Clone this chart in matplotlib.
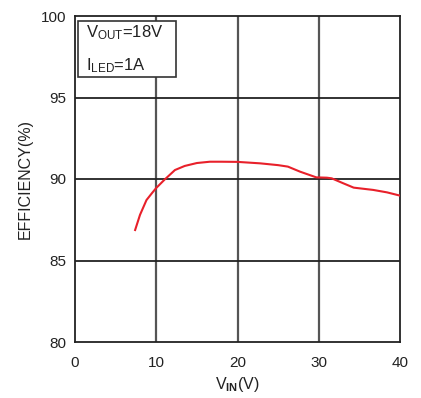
import matplotlib
matplotlib.use("Agg")
import matplotlib.pyplot as plt
from matplotlib.patches import Rectangle

plt.rcParams['font.family'] = ['Liberation Sans', 'DejaVu Sans']
plt.rcParams['mathtext.fontset'] = 'custom'
plt.rcParams['mathtext.rm'] = 'Liberation Sans'
plt.rcParams['mathtext.it'] = 'Liberation Sans'
plt.rcParams['mathtext.bf'] = 'Liberation Sans:bold'
plt.rcParams['mathtext.default'] = 'regular'

vin = [7.4, 8.0, 8.8, 9.5, 10.0, 11.0, 12.3, 13.5, 15.0, 16.6, 18.0, 20.0,
       22.8, 25.0, 26.2, 27.7, 29.7, 31.0, 31.6, 33.0, 34.3, 36.7, 38.4, 40.0]
eff = [86.87, 87.8, 88.71, 89.15, 89.45, 89.95, 90.55, 90.8, 90.98, 91.06, 91.06, 91.05,
       90.96, 90.85, 90.76, 90.45, 90.1, 90.08, 90.04, 89.74, 89.47, 89.33, 89.18, 88.98]
xticks = [0, 10, 20, 30, 40]
yticks = [80, 85, 90, 95, 100]

fig = plt.figure(figsize=(4.21, 3.98), dpi=100)
ax = fig.add_axes([75/421, 1-342/398, 325/421, 326/398])
ax.set_xlim(0, 40)
ax.set_ylim(80, 100)
ax.set_xticks(xticks)
ax.set_yticks(yticks)
ax.tick_params(length=0, labelsize=11, colors='#222222')
ax.tick_params(axis='x', pad=10)
ax.tick_params(axis='y', pad=6)
for x in xticks[1:-1]:
    ax.axvline(x, color='#555555', lw=1.6, zorder=1)
for y in yticks[1:-1]:
    ax.axhline(y, color='#222222', lw=1.3, zorder=1)
for s in ax.spines.values():
    s.set_color('#222222')
    s.set_linewidth(1.3)

ax.plot(vin, eff, color='#e8202a', lw=1.5, zorder=3)

box = Rectangle((0.4, 96.28), 12.0, 3.43, fill=True, facecolor='white',
                edgecolor='#333333', lw=1.2, zorder=4)
ax.add_patch(box)
ax.text(1.4, 98.95, r'V$_{OUT}$=18V', fontsize=12, va='center', ha='left', zorder=5, color='#222222')
ax.text(1.4, 96.95, r'I$_{LED}$=1A', fontsize=12, va='center', ha='left', zorder=5, color='#222222')

ax.set_xlabel(r'V$_{\mathbf{IN}}$(V)', fontsize=11.5, labelpad=4, color='#222222')
ax.set_ylabel('EFFICIENCY(%)', fontsize=11.5, labelpad=6, color='#222222')

fig.savefig('out.png', dpi=100)
